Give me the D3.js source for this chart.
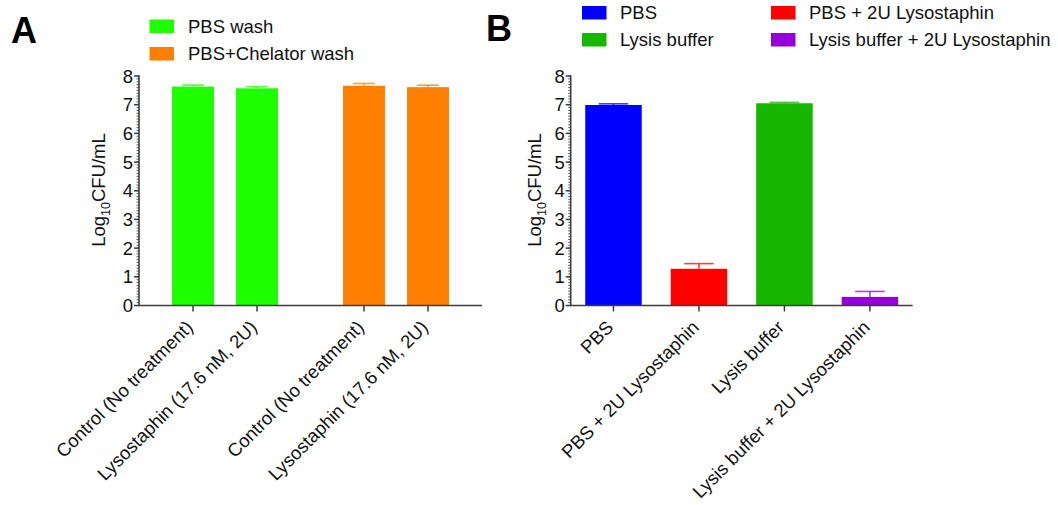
<!DOCTYPE html>
<html>
<head>
<meta charset="utf-8">
<script src="https://cdn.jsdelivr.net/npm/d3@7/dist/d3.min.js"></script>
<style>
  html, body { margin: 0; padding: 0; background: #fff; }
  svg { display: block; font-family: "Liberation Sans", Arial, sans-serif; }
</style>
</head>
<body>
<svg id="chart" width="1058" height="505"></svg>
<script>
// ---- Panel A: wash comparison ----
const washGroups = ["PBS wash", "PBS+Chelator wash"];
const washColors = ["#1eff00", "#ff8000"];
const washTreatments = ["Control (No treatment)", "Lysostaphin (17.6 nM, 2U)"];
const washMeans = [[7.63, 7.57], [7.66, 7.61]];
const washErrors = [[0.05, 0.06], [0.08, 0.07]];

// ---- Panel B: lysis conditions ----
const lysisCategories = ["PBS", "PBS + 2U Lysostaphin", "Lysis buffer", "Lysis buffer + 2U Lysostaphin"];
const lysisColors = ["#0000ff", "#ff0000", "#17b700", "#9400d8"];
const lysisMeans = [6.99, 1.28, 7.05, 0.30];
const lysisErrors = [0.04, 0.18, 0.03, 0.19];

const yTicks = [0, 1, 2, 3, 4, 5, 6, 7, 8];

const svg = d3.select("#chart");
const axisColor = "#3c3c3c";
const fontSize = 18.5;

function drawYAxis(g, y, x0) {
  const minor = d3.range(0, 8.001, 0.1);
  g.selectAll("line.minor").data(minor).join("line")
    .attr("x1", x0 - 2.5).attr("x2", x0)
    .attr("y1", d => y(d)).attr("y2", d => y(d))
    .attr("stroke", axisColor).attr("stroke-width", 0.8);
  g.selectAll("line.major").data(yTicks).join("line")
    .attr("class", "major")
    .attr("x1", x0 - 5).attr("x2", x0)
    .attr("y1", d => y(d)).attr("y2", d => y(d))
    .attr("stroke", axisColor).attr("stroke-width", 1.5);
  g.append("line")
    .attr("x1", x0).attr("x2", x0)
    .attr("y1", y(0) + 0.75).attr("y2", y(8) - 0.75)
    .attr("stroke", axisColor).attr("stroke-width", 1.6);
  g.selectAll("text.ytick").data(yTicks).join("text")
    .attr("class", "ytick")
    .attr("x", x0 - 6).attr("y", d => y(d))
    .attr("dy", "0.36em")
    .attr("text-anchor", "end")
    .attr("font-size", fontSize)
    .attr("fill", "#111")
    .text(d => d);
}

function drawYTitle(g, cx, cy) {
  const t = g.append("text")
    .attr("transform", `translate(${cx},${cy}) rotate(-90)`)
    .attr("text-anchor", "middle")
    .attr("font-size", fontSize)
    .attr("fill", "#111");
  t.append("tspan").text("Log");
  t.append("tspan").attr("font-size", 12.5).attr("dy", 5).text("10");
  t.append("tspan").attr("dy", -5).text("CFU/mL");
}

function drawXAxis(g, y, xStart, xEnd, ticks) {
  g.append("line")
    .attr("x1", xStart).attr("x2", xEnd)
    .attr("y1", y(0)).attr("y2", y(0))
    .attr("stroke", axisColor).attr("stroke-width", 1.6);
  g.selectAll("line.xtick").data(ticks).join("line")
    .attr("class", "xtick")
    .attr("x1", d => d.x).attr("x2", d => d.x)
    .attr("y1", y(0)).attr("y2", y(0) + 6)
    .attr("stroke", axisColor).attr("stroke-width", 1.5);
  g.selectAll("text.xlabel").data(ticks).join("text")
    .attr("class", "xlabel")
    .attr("transform", d => `translate(${d.x + 1},${y(0) + 23}) rotate(-45)`)
    .attr("text-anchor", "end")
    .attr("font-size", fontSize)
    .attr("fill", "#111")
    .text(d => d.label);
}

function drawBar(g, x, w, y, mean, err, color) {
  const cx = x + w / 2;
  const capW = w * 0.52;
  g.append("line")
    .attr("x1", cx).attr("x2", cx)
    .attr("y1", y(mean)).attr("y2", y(mean + err))
    .attr("stroke", color).attr("stroke-width", 1.6).attr("opacity", 0.75);
  g.append("line")
    .attr("x1", cx - capW / 2).attr("x2", cx + capW / 2)
    .attr("y1", y(mean + err)).attr("y2", y(mean + err))
    .attr("stroke", color).attr("stroke-width", 1.6).attr("opacity", 0.75);
  g.append("rect")
    .attr("x", x).attr("y", y(mean))
    .attr("width", w).attr("height", y(0) - y(mean))
    .attr("fill", color);
}

// Panel A
{
  const g = svg.append("g");
  const y = d3.scaleLinear().domain([0, 8]).range([305.5, 76]);
  const x0 = 139, x1 = 482;
  const outer = d3.scaleBand().domain(washGroups).range([x0, x1])
    .paddingInner(0.2515).paddingOuter(0.1287);
  const inner = d3.scaleBand().domain(washTreatments).range([0, outer.bandwidth()])
    .paddingInner(0.344).paddingOuter(0.172);

  const ticks = [];
  washGroups.forEach((grp, gi) => {
    washTreatments.forEach((tr, ti) => {
      const bx = outer(grp) + inner(tr);
      drawBar(g, bx, inner.bandwidth(), y, washMeans[gi][ti], washErrors[gi][ti], washColors[gi]);
      ticks.push({ x: bx + inner.bandwidth() / 2, label: tr });
    });
  });
  drawXAxis(g, y, x0, x1, ticks);
  drawYAxis(g, y, x0);
  drawYTitle(g, 105, 190);

  // legend
  const lg = g.append("g");
  washGroups.forEach((name, i) => {
    const ly = 26 + i * 27.5;
    lg.append("rect").attr("x", 149.5).attr("y", ly - 6.5).attr("width", 24.5).attr("height", 13.5)
      .attr("fill", washColors[i]);
    lg.append("text").attr("x", 188).attr("y", ly).attr("dy", "0.36em")
      .attr("font-size", fontSize).attr("fill", "#111").text(name);
  });

  svg.append("text").attr("x", 11).attr("y", 43)
    .attr("font-size", 36).attr("font-weight", "bold").attr("fill", "#000").text("A");
}

// Panel B
{
  const g = svg.append("g");
  const y = d3.scaleLinear().domain([0, 8]).range([305.5, 76]);
  const x0 = 570.7, x1 = 912.7;
  const x = d3.scaleBand().domain(lysisCategories).range([x0, x1])
    .paddingInner(0.339).paddingOuter(0.17);

  lysisCategories.forEach((c, i) => {
    drawBar(g, x(c), x.bandwidth(), y, lysisMeans[i], lysisErrors[i], lysisColors[i]);
  });
  drawXAxis(g, y, x0, x1, lysisCategories.map(c => ({ x: x(c) + x.bandwidth() / 2, label: c })));
  drawYAxis(g, y, x0);
  drawYTitle(g, 541, 190);

  // legend: two columns, two rows
  const order = [[0, 2], [1, 3]];
  order.forEach((col, ci) => {
    col.forEach((idx, ri) => {
      const lx = ci === 0 ? 582 : 771;
      const ly = 12.5 + ri * 27;
      g.append("rect").attr("x", lx).attr("y", ly - 6.5).attr("width", 24.5).attr("height", 13.5)
        .attr("fill", lysisColors[idx]);
      g.append("text").attr("x", lx + 38).attr("y", ly).attr("dy", "0.36em")
        .attr("font-size", fontSize).attr("fill", "#111").text(lysisCategories[idx]);
    });
  });

  svg.append("text").attr("x", 486).attr("y", 41)
    .attr("font-size", 36).attr("font-weight", "bold").attr("fill", "#000").text("B");
}
</script>
</body>
</html>
